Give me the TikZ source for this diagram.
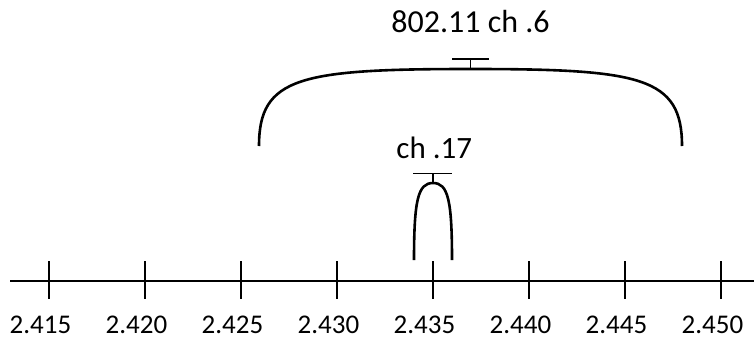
\documentclass[tikz,border=0pt]{standalone}
\usepackage{fontspec}
\setmainfont{Carlito}
\begin{document}
\begin{tikzpicture}[x=1pt,y=-1pt,
  axisline/.style={line width=1.8pt},
  tickline/.style={line width=1.8pt},
  bracketline/.style={line width=2.6pt},
  tbar/.style={line width=1.6pt},
  axislabel/.style={anchor=base,inner sep=0pt,font=\fontsize{27}{32}\selectfont},
  toplabel/.style={anchor=base,inner sep=0pt,font=\fontsize{32}{38}\selectfont},
  midlabel/.style={anchor=base,inner sep=0pt,font=\fontsize{31}{37}\selectfont}]
\useasboundingbox (0,0) rectangle (754,340);
% axis
\coordinate (axL) at (10,281);
\coordinate (axR) at (754,281);
\draw[axisline] (axL) -- (axR);
\foreach \x/\lab [count=\i] in {49/2.415,145/2.420,241/2.425,337/2.430,433/2.435,529/2.440,625/2.445,721/2.450}{
  \coordinate (t\i a) at (\x,261);
  \coordinate (t\i b) at (\x,299);
  \draw[tickline] (t\i a) -- (t\i b);
  \node[axislabel] (l\i) at (\x-8.5,333) {\lab};
}
% big bracket
\coordinate (bL) at (259,146);
\coordinate (bT) at (470.5,69);
\coordinate (bR) at (682,146);
\draw[bracketline] (bL) .. controls (259,77) and (300,69) .. (bT)
  .. controls (641,69) and (682,77) .. (bR);
\coordinate (bTt) at (470.5,59);
\coordinate (bBl) at (452,59);
\coordinate (bBr) at (489,59);
\draw[tbar] (bT) -- (bTt);
\draw[tbar] (bBl) -- (bBr);
\node[toplabel] (big) at (470.5,32.7) {802.11 ch .6};
% small bracket
\coordinate (sL) at (414,260);
\coordinate (sT) at (433,183);
\coordinate (sR) at (452,260);
\draw[bracketline] (sL) .. controls (414,200) and (418,183) .. (sT)
  .. controls (448,183) and (452,200) .. (sR);
\coordinate (sTt) at (433,173.5);
\coordinate (sBl) at (413,173.5);
\coordinate (sBr) at (452,173.5);
\draw[tbar] (sT) -- (sTt);
\draw[tbar] (sBl) -- (sBr);
\node[midlabel] (small) at (434.3,158.3) {ch .17};
\end{tikzpicture}
\end{document}
